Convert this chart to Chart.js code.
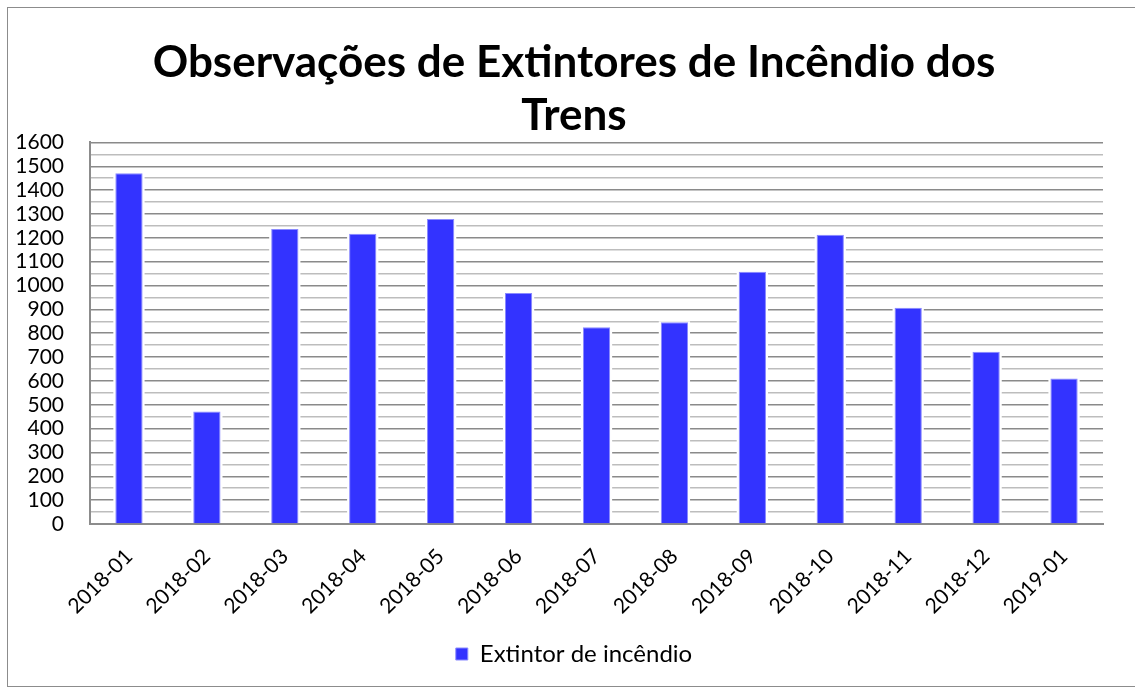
<!DOCTYPE html>
<html lang="pt">
<head>
<meta charset="utf-8">
<title>Observações de Extintores de Incêndio dos Trens</title>
<script src="https://cdn.jsdelivr.net/npm/chart.js@4/dist/chart.umd.min.js"></script>
<style>
  html, body { margin: 0; padding: 0; background: #fff; }
  #wrap { position: relative; width: 1135px; height: 688px; overflow: hidden; }
  #frame { position: absolute; left: 7px; top: 7px; width: 1160px; height: 680px;
           border: 1.5px solid #8c8c8c; box-sizing: border-box; pointer-events: none; }
  canvas { position: absolute; left: 0; top: 0; }
</style>
</head>
<body>
<div id="wrap">
  <canvas id="chart" width="1135" height="688"></canvas>
  <div id="frame"></div>
</div>
<script>
// Monthly counts of fire-extinguisher observations on trains
const months = ['2018-01', '2018-02', '2018-03', '2018-04', '2018-05', '2018-06', '2018-07',
                '2018-08', '2018-09', '2018-10', '2018-11', '2018-12', '2019-01'];
const extinguisherCounts = [1471, 472, 1237, 1217, 1279, 969, 825, 846, 1058, 1213, 907, 722, 610];
const seriesName = 'Extintor de incêndio';
const chartTitle = ['Observações de Extintores de Incêndio dos', 'Trens'];
const yMin = 0, yMax = 1600, yMinorStep = 50, yMajorStep = 100;

const FONT = 'Lato, "Open Sans", sans-serif';
const Y_FONT_SIZE = 21;
const Y_LABEL_GAP = 26;   // space between the value labels and the axis line
const Y_AXIS_WIDTH = 45;  // width reserved for the value axis in the layout

// Widest value label, so mirrored labels can sit right-aligned left of the axis
const measureCtx = document.createElement('canvas').getContext('2d');
measureCtx.font = `${Y_FONT_SIZE}px ${FONT}`;
const widestYLabel = Math.max(...[yMin, yMax].map(v => measureCtx.measureText(String(v)).width));

// Leave a thin white margin around each bar so grid lines stop short of it
const barHalo = {
  id: 'barHalo',
  beforeDatasetsDraw(chart) {
    const ctx = chart.ctx;
    const area = chart.chartArea;
    ctx.save();
    ctx.fillStyle = '#ffffff';
    chart.getDatasetMeta(0).data.forEach(bar => {
      const w = bar.width;
      const top = Math.min(bar.y, bar.base);
      ctx.fillRect(bar.x - w / 2 - 2, top - 1, w + 4, area.bottom - top - 1);
    });
    ctx.restore();
  }
};

new Chart(document.getElementById('chart'), {
  type: 'bar',
  data: {
    labels: months,
    datasets: [{
      label: seriesName,
      data: extinguisherCounts,
      backgroundColor: '#3333ff',
      borderColor: '#8a8aff',
      borderWidth: 1,
      barPercentage: 0.7,
      categoryPercentage: 0.5
    }]
  },
  options: {
    responsive: false,
    animation: false,
    layout: { padding: { left: 45, right: 32, top: 20, bottom: 12 } },
    plugins: {
      title: {
        display: true,
        text: chartTitle,
        color: '#000',
        font: { family: FONT, size: 44, weight: 'bold', lineHeight: 1.21 },
        padding: { top: 16, bottom: 0 }
      },
      legend: {
        position: 'bottom',
        labels: {
          color: '#000',
          font: { family: FONT, size: 24 },
          boxWidth: 12,
          boxHeight: 12,
          padding: 11
        }
      },
      tooltip: { enabled: false }
    },
    scales: {
      x: {
        grid: { display: false },
        border: { color: '#8c8c8c', width: 2 },
        ticks: {
          color: '#000',
          font: { family: FONT, size: 21 },
          minRotation: 45,
          maxRotation: 45,
          autoSkip: false,
          padding: 12
        },
        // rotated labels may hang past the plot's left edge
        afterFit(scale) { scale.paddingLeft = 0; scale.paddingRight = 0; }
      },
      y: {
        min: yMin,
        max: yMax,
        grid: {
          drawTicks: false,
          lineWidth: 1.6,
          color: c => (c.tick && c.tick.value % yMajorStep === 0) ? '#8a8a8a' : '#bdbdbd'
        },
        border: { color: '#8c8c8c', width: 2 },
        ticks: {
          stepSize: yMinorStep,
          autoSkip: false,
          color: '#000',
          font: { family: FONT, size: Y_FONT_SIZE },
          mirror: true,
          crossAlign: 'far',
          padding: -(Y_LABEL_GAP + widestYLabel),
          callback: v => (v % yMajorStep === 0) ? String(v) : ''
        },
        afterFit(scale) { scale.width = Y_AXIS_WIDTH; }
      }
    }
  },
  plugins: [barHalo]
});
</script>
</body>
</html>
